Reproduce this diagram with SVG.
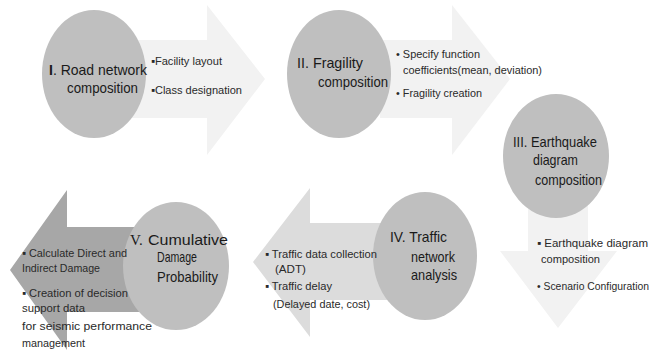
<svg xmlns="http://www.w3.org/2000/svg" width="653" height="361" viewBox="0 0 653 361">
<style>
.bg{fill:#ffffff}
.a1{fill:#f2f2f2}
.a4{fill:#dcdcdc}
.a5{fill:#a7a7a7}
.c{fill:#bfbfbf}
.t{font-family:"Liberation Sans",Arial,sans-serif;font-size:15px;fill:#1a1a1a}
.b{font-family:"Liberation Sans",Arial,sans-serif;font-size:11.5px;fill:#2a2a2a}
.s{font-family:"Liberation Serif","Times New Roman",serif;font-size:15px;fill:#1a1a1a}
</style>
<rect class="bg" x="0" y="0" width="653" height="361"/>
<g id="connectors">
<polygon class="a1" points="130,40 207,40 207,5 265,79 207,155 207,118 130,118"/>
<polygon class="a1" points="380,40 452,40 452,5 510,79 452,155 452,118 380,118"/>
<polygon class="a1" points="528,200 588,200 588,251 617,251 558,328 500,251 528,251"/>
<polygon class="a4" points="400,223 310,223 310,188 253,262 310,337 310,300 400,300"/>
<polygon class="a5" points="150,227 67,227 67,190 10,270 67,350 67,312 150,312"/>
</g>
<g id="node1">
<ellipse class="c" cx="94" cy="74" rx="52" ry="64"/>
<text class="t" x="49" y="75" textLength="98" lengthAdjust="spacingAndGlyphs"><tspan font-weight="bold">I</tspan>. Road network</text>
<text class="t" x="67" y="93" textLength="71" lengthAdjust="spacingAndGlyphs">composition</text>
<text class="b" x="151" y="65" textLength="71" lengthAdjust="spacingAndGlyphs">▪Facility layout</text>
<text class="b" x="151" y="94" textLength="91" lengthAdjust="spacingAndGlyphs">▪Class designation</text>
</g>
<g id="node2">
<ellipse class="c" cx="339" cy="74" rx="52" ry="64"/>
<text class="t" x="297" y="68" textLength="66" lengthAdjust="spacingAndGlyphs">II. Fragility</text>
<text class="t" x="318" y="87" textLength="70" lengthAdjust="spacingAndGlyphs">composition</text>
<text class="b" x="396" y="58" textLength="84" lengthAdjust="spacingAndGlyphs">• Specify function</text>
<text class="b" x="403" y="74" textLength="139" lengthAdjust="spacingAndGlyphs">coefficients(mean, deviation)</text>
<text class="b" x="396" y="97" textLength="86" lengthAdjust="spacingAndGlyphs">• Fragility creation</text>
</g>
<g id="node3">
<ellipse class="c" cx="556" cy="156" rx="53" ry="62"/>
<text class="t" x="513" y="147" textLength="84" lengthAdjust="spacingAndGlyphs">III. Earthquake</text>
<text class="t" x="533" y="165" textLength="45" lengthAdjust="spacingAndGlyphs">diagram</text>
<text class="t" x="535" y="185" textLength="67" lengthAdjust="spacingAndGlyphs">composition</text>
<text class="b" x="537" y="247" textLength="111" lengthAdjust="spacingAndGlyphs">▪ Earthquake diagram</text>
<text class="b" x="541" y="263" textLength="59" lengthAdjust="spacingAndGlyphs">composition</text>
<text class="b" x="537" y="290" font-size="10.5" textLength="112" lengthAdjust="spacingAndGlyphs" style="font-size:10.5px">• Scenario Configuration</text>
</g>
<g id="node4">
<ellipse class="c" cx="425" cy="256" rx="52" ry="64"/>
<text class="t" x="390" y="242" textLength="57" lengthAdjust="spacingAndGlyphs">IV. Traffic</text>
<text class="t" x="411" y="262" textLength="44" lengthAdjust="spacingAndGlyphs">network</text>
<text class="t" x="411" y="280" textLength="46" lengthAdjust="spacingAndGlyphs">analysis</text>
<text class="b" x="265" y="258" textLength="112" lengthAdjust="spacingAndGlyphs">▪ Traffic data collection</text>
<text class="b" x="275" y="273" textLength="31" lengthAdjust="spacingAndGlyphs">(ADT)</text>
<text class="b" x="265" y="290" textLength="67" lengthAdjust="spacingAndGlyphs">▪ Traffic delay</text>
<text class="b" x="273" y="308" textLength="97" lengthAdjust="spacingAndGlyphs">(Delayed date, cost)</text>
</g>
<g id="node5">
<ellipse class="c" cx="176" cy="266" rx="53" ry="64"/>
<text class="s" x="130" y="245">V.</text>
<text class="t" x="148" y="245" textLength="80" lengthAdjust="spacingAndGlyphs">Cumulative</text>
<text class="t" x="157" y="262" textLength="40" lengthAdjust="spacingAndGlyphs">Damage</text>
<text class="t" x="157" y="282" textLength="61" lengthAdjust="spacingAndGlyphs">Probability</text>
<text class="b" x="22" y="257" textLength="105" lengthAdjust="spacingAndGlyphs">▪ Calculate Direct and</text>
<text class="b" x="22" y="272" textLength="78" lengthAdjust="spacingAndGlyphs">Indirect Damage</text>
<text class="b" x="22" y="297" textLength="106" lengthAdjust="spacingAndGlyphs">▪ Creation of decision</text>
<text class="b" x="22" y="312" textLength="63" lengthAdjust="spacingAndGlyphs">support data</text>
<text class="b" x="22" y="330" textLength="130" lengthAdjust="spacingAndGlyphs">for seismic performance</text>
<text class="b" x="22" y="347" textLength="63" lengthAdjust="spacingAndGlyphs">management</text>
</g>
</svg>
